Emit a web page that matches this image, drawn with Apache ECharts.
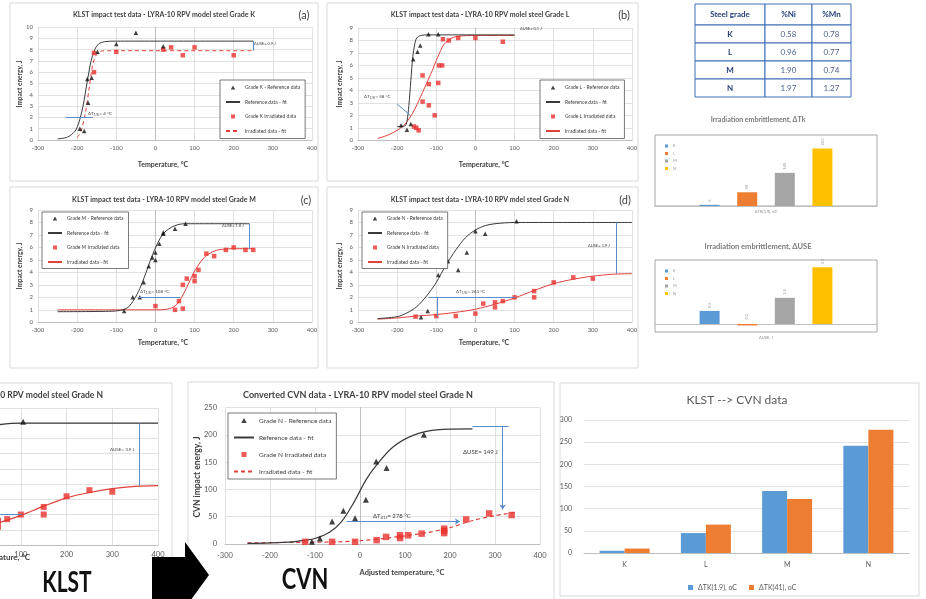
<!DOCTYPE html>
<html><head><meta charset="utf-8">
<script src="https://cdn.jsdelivr.net/npm/echarts@6/dist/echarts.min.js"></script>
<style>html,body{margin:0;padding:0;background:#fff}#c{width:926px;height:599px}</style>
</head><body><div id="c"></div>
<script>
// ---------- DATA ----------
// Grade K (panel a)
const kRef = [[-193,1.0],[-182,0.8],[-174,5.4],[-172,3.3],[-163,5.5],[-148,7.8],[-100,8.5],[-50,9.5],[20,8.3]];
const kRefFit = [[-250,0.1],[-225,0.25],[-205,0.8],[-195,1.6],[-185,3.0],[-175,5.0],[-165,6.9],[-155,8.0],[-145,8.5],[-130,8.7],[-100,8.75],[250,8.75]];
const kIrr = [[-157,7.7],[-157,6.0],[-100,7.8],[20,8.0],[40,8.2],[70,7.5],[100,8.2],[200,7.5]];
const kIrrFit = [[-200,0.2],[-190,0.8],[-180,2.2],[-170,4.4],[-160,6.7],[-150,7.6],[-140,7.85],[-120,7.9],[250,7.9]];
const kDT = [[-230,2],[-160,2]];
const kDUSE = [[250,8.75],[250,7.9]];
// Grade L (panel b)
const lRef = [[-190,1.2],[-175,0.85],[-165,1.3],[-159,6.5],[-148,7.1],[-141,7.6],[-120,8.5],[-95,8.5]];
const lRefFit = [[-200,1.1],[-180,1.15],[-175,1.5],[-170,2.8],[-165,4.8],[-160,6.7],[-155,7.7],[-150,8.2],[-140,8.4],[-120,8.45],[100,8.45]];
const lIrr = [[-157,1.1],[-151,1.0],[-145,0.8],[-135,5.2],[-135,3.1],[-119,4.5],[-119,2.8],[-104,2.0],[-95,4.6],[-93,6.0],[-85,6.0],[-83,8.1],[-68,8.0],[-44,8.2],[0,8.2],[70,7.9]];
const lIrrFit = [[-250,0.15],[-225,0.4],[-200,0.8],[-180,1.3],[-160,2.2],[-140,3.5],[-120,4.9],[-110,5.6],[-100,6.4],[-90,7.1],[-80,7.7],[-60,8.2],[-40,8.35],[0,8.4],[100,8.4]];
const lDT = [[-200,2.9],[-166,2.0]];
// Grade M (panel c)
const mRef = [[-80,0.9],[-58,2.0],[-40,2.0],[-30,3.2],[-17,4.5],[-8,5.2],[0,5.6],[0,5.0],[10,6.3],[20,7.1],[20,7.2],[50,7.5],[77,7.9]];
const mRefFit = [[-250,0.85],[-120,0.88],[-90,0.95],[-70,1.2],[-55,1.8],[-40,2.7],[-25,3.9],[-10,5.2],[5,6.3],[20,7.1],[40,7.6],[60,7.85],[80,7.9],[240,7.9]];
const mIrr = [[0,1.3],[50,1.0],[70,1.1],[60,1.7],[70,3.0],[80,3.5],[100,3.3],[100,3.7],[110,4.2],[130,5.5],[150,5.3],[180,5.8],[200,6.0],[230,5.8],[250,5.8]];
const mIrrFit = [[-250,1.0],[0,1.0],[30,1.05],[50,1.3],[65,1.9],[80,2.8],[95,3.8],[110,4.6],[125,5.2],[140,5.55],[160,5.8],[200,5.9],[250,5.9]];
const mDT = [[-42,2],[63,2]];
const mDUSE = [[240,7.9],[240,5.9]];
// Grade N (panel d and enlarged copy)
const nRef = [[-139,0.4],[-122,0.9],[-95,3.8],[-70,4.9],[-44,4.2],[-22,5.6],[0,7.3],[25,7.1],[105,8.1]];
const nRefFit = [[-250,0.3],[-200,0.45],[-175,0.75],[-150,1.25],[-125,2.1],[-100,3.2],[-75,4.6],[-50,5.8],[-25,6.8],[0,7.4],[25,7.75],[50,7.9],[100,8.0],[400,8.0]];
const nIrr = [[-153,0.45],[-100,0.5],[-50,0.5],[0,0.7],[20,1.5],[50,1.6],[50,1.2],[70,1.7],[100,2.0],[150,2.5],[150,2.0],[200,3.2],[250,3.6],[300,3.5]];
const nIrrFit = [[-250,0.25],[-200,0.35],[-150,0.5],[-100,0.62],[-50,0.8],[0,1.05],[50,1.45],[100,1.95],[150,2.55],[200,3.1],[250,3.45],[300,3.7],[350,3.85],[400,3.9]];
const nDT = [[-120,2],[102,2]];
const nDTv = [[-97,2],[-97,0.5]];
const nDUSE = [[360,8.0],[360,3.9]];
// Converted CVN, grade N
const cvnRef = [[-107,4],[-89,10],[-62,41],[-37,61],[-11,47],[13,81],[36,151],[59,139],[142,200]];
const cvnRefFit = [[-250,1],[-200,2],[-150,4],[-120,7],[-100,10],[-67,22],[-40,42],[-15,74],[13,117],[37,145],[74,178],[118,199],[170,209],[250,211]];
const cvnIrr = [[-122,4],[-62,4],[-11,4],[37,7],[58,13],[89,11],[89,16],[107,16],[137,19],[187,20],[187,24],[187,28],[236,45],[287,56],[337,53]];
const cvnIrrFit = [[-250,2],[-150,3],[-50,4],[0,6],[50,10],[100,15],[150,21],[200,30],[250,43],[300,52],[345,58]];
const cvnDT = [[-30,41],[222,41]];
const cvnDUSEh = [[250,215],[330,215]];
const cvnDUSEv = [[317,215],[317,63]];
// KLST -> CVN bar chart
const grades = ['K','L','M','N'];
const dTk19 = [5,45,140,242];
const dTk41 = [10,64,122,278];
// Mini charts
const miniTk = [5,58,140,243];
const miniUse = [0.9,-0.1,1.8,3.9];
const miniColors = ['#5b9bd5','#ed7d31','#a5a5a5','#ffc000'];
// Table
const tblHead = ['Steel grade','%Ni','%Mn'];
const tblNi = ['0.58','0.96','1.90','1.97'];
const tblMn = ['0.78','0.77','0.74','1.27'];

// ---------- BUILD ----------
const fam = 'Lato, "Liberation Sans", sans-serif';
const strip = n => n.split('|')[0];
const G = [];
function txt(x,y,text,size,o={}){
  const el = {type:'text', x, y, rotation:o.rot||0, scaleX:o.sx||1, z:100, silent:true,
    style:{text, font:(o.w||'normal')+' '+size+'px '+fam, fill:o.c||'#404040',
      align:o.a||'center', verticalAlign:o.va||'middle'}};
  if(o.rich) el.style.rich = o.rich;
  return el;
}
function frame(x,y,w,h,c){ G.push({type:'rect', z:0, silent:true, shape:{x,y,width:w,height:h}, style:{fill:'#fff', stroke:c||'#d9d9d9', lineWidth:1}}); }
function dtLabel(x,y,val,size,sub){
  return txt(x,y,'{n|ΔT}{s|'+(sub||'1.9J')+'}{n|= '+val+' °C}',size,{a:'left',
    rich:{n:{fontSize:size,fontFamily:'Lato',fill:'#404040'},s:{fontSize:size*0.7,fontFamily:'Lato',fill:'#404040',padding:[size*0.5,0,0,0]}}});
}

const grids=[], xA=[], yA=[], S=[], L=[];
function addKlstAxes(g, ymax, lab, lsize){
  g.outerBoundsMode = 'none';
  grids.push(g);
  const gi = grids.length-1;
  xA.push({gridIndex:gi, type:'value', min:-300, max:400, interval:100,
    axisLine:{lineStyle:{color:'#bfbfbf'}}, axisTick:{show:false},
    axisLabel:{fontSize:lsize, color:'#595959', margin:lab.xm, fontFamily:fam},
    splitLine:{lineStyle:{color:'#d9d9d9', width:0.8}}});
  yA.push({gridIndex:gi, type:'value', min:0, max:ymax, interval:lab.yi||1,
    axisLine:{show:true, lineStyle:{color:'#bfbfbf'}}, axisTick:{show:false},
    axisLabel:{fontSize:lsize, color:'#595959', margin:lab.ym, fontFamily:fam},
    splitLine:{lineStyle:{color:'#d9d9d9', width:0.8}}});
  return gi;
}
function panelSeries(gi, tag, grade, ref, refFit, irr, irrFit, dashed, sz){
  const names = ['Grade '+grade+' - Reference data|'+tag, 'Reference data - fit|'+tag,
                 'Grade '+grade+' Irradiated data|'+tag, 'Irradiated data - fit|'+tag];
  S.push({name:names[3], type:'line', xAxisIndex:gi, yAxisIndex:gi, data:irrFit, smooth:0.3, symbol:'none',
    lineStyle:{color:'#e0403a', width:sz.lw, type:dashed?[4,3]:'solid'}, itemStyle:{color:'#e0403a'}, z:2, silent:true});
  S.push({name:names[1], type:'line', xAxisIndex:gi, yAxisIndex:gi, data:refFit, smooth:0.3, symbol:'none',
    lineStyle:{color:'#3a3a3a', width:sz.lw}, itemStyle:{color:'#3a3a3a'}, z:3, silent:true});
  S.push({name:names[2], type:'scatter', xAxisIndex:gi, yAxisIndex:gi, data:irr, symbol:'rect', symbolSize:sz.sq,
    itemStyle:{color:'#e8322e'}, z:4, silent:true});
  S.push({name:names[0], type:'scatter', xAxisIndex:gi, yAxisIndex:gi, data:ref, symbol:'triangle', symbolSize:sz.tri,
    itemStyle:{color:'#111'}, z:5, silent:true});
  return names;
}
function annot(gi, coords, arrow){
  S.push({type:'lines', coordinateSystem:'cartesian2d', xAxisIndex:gi, yAxisIndex:gi, silent:true, z:6,
    data:[{coords}], lineStyle:{color:'#5a8ccc', width:1, opacity:1, curveness:0},
    symbol: arrow?['none','arrow']:['none','none'], symbolSize:arrow?5:0});
}
const TRI='path://M5,0L10,9L0,9Z', SQ='path://M0,0H10V10H0Z';
function legendFor(names, left, top, fs, ih, gap, pad, iw){
  L.push({show:true, left, top, orient:'vertical', symbolKeepAspect:true,
    data:[{name:names[0],icon:TRI},{name:names[1],itemStyle:{opacity:0}},{name:names[2],icon:SQ},{name:names[3],itemStyle:{opacity:0}}],
    formatter:strip, selectedMode:false, borderColor:'#404040', borderWidth:0.7, backgroundColor:'#fff',
    padding:pad, itemGap:gap, itemWidth:iw, itemHeight:ih, textStyle:{fontSize:fs, color:'#404040', fontFamily:fam}, z:20});
}
const small = {tri:4.5, sq:4.5, lw:1};

// frames
frame(10,3,308,178); frame(327,3,311,178); frame(10,187,308,181); frame(327,187,311,181);
frame(-5,383,177,230); frame(188,382,366,230); frame(560,383,359,213);

// Panel a
let gi = addKlstAxes({left:38, top:27, width:274, height:113}, 10, {xm:5, ym:5}, 6);
let nm = panelSeries(gi,'a','K',kRef,kRefFit,kIrr,kIrrFit,true,small);
annot(gi,kDT,false); annot(gi,kDUSE,false);
legendFor(nm,220,80,5,4,9.5,[5,5],14);
// Panel b
gi = addKlstAxes({left:358, top:28, width:274, height:112.3}, 9, {xm:5, ym:5}, 6);
nm = panelSeries(gi,'b','L',lRef,lRefFit,lIrr,lIrrFit,false,small);
annot(gi,lDT,false);
legendFor(nm,540,80,5,4,9.5,[5,5],14);
// Panel c
gi = addKlstAxes({left:38, top:210, width:274, height:112.3}, 9, {xm:5, ym:5}, 6);
nm = panelSeries(gi,'c','M',mRef,mRefFit,mIrr,mIrrFit,false,small);
annot(gi,mDT,false); annot(gi,mDUSE,false);
legendFor(nm,42,212,5,4,9.5,[4,5],14);
// Panel d
gi = addKlstAxes({left:358, top:210, width:274, height:112.3}, 9, {xm:5, ym:5}, 6);
nm = panelSeries(gi,'d','N',nRef,nRefFit,nIrr,nIrrFit,false,small);
annot(gi,nDT,false); annot(gi,nDTv,false); annot(gi,nDUSE,false);
legendFor(nm,362,212,5,4,9.5,[4,5],14);
// Enlarged Grade N (partially visible)
gi = addKlstAxes({left:-162, top:408, width:320, height:137}, 9, {xm:6, ym:6}, 7.5);
panelSeries(gi,'e','N',nRef,nRefFit,nIrr,nIrrFit,false,{tri:6,sq:6,lw:1.2});
annot(gi,nDT,false); annot(gi,nDUSE,false);
// CVN
gi = addKlstAxes({left:225, top:407.5, width:315, height:136.5}, 250, {xm:8, ym:8, yi:50}, 7.5);
nm = panelSeries(gi,'f','N',cvnRef,cvnRefFit,cvnIrr,cvnIrrFit,true,{tri:6,sq:6.5,lw:1.2});
annot(gi,cvnDT,true); annot(gi,cvnDUSEh,false); annot(gi,cvnDUSEv,true);
legendFor(nm,228,413,6.5,5,10,[4,5],20);

// Bar chart KLST -> CVN
grids.push({left:584, top:420, width:325, height:133, outerBoundsMode:'none'}); gi = grids.length-1;
xA.push({gridIndex:gi, type:'category', data:grades, axisLine:{lineStyle:{color:'#bfbfbf'}}, axisTick:{show:false},
  axisLabel:{fontSize:7, color:'#595959', margin:8, fontFamily:fam}});
yA.push({gridIndex:gi, type:'value', min:0, max:300, interval:50, axisLine:{show:false}, axisTick:{show:false},
  axisLabel:{fontSize:7, color:'#595959', margin:12, fontFamily:fam}, splitLine:{lineStyle:{color:'#d9d9d9', width:0.8}}});
S.push({name:'ΔTK(1.9), oC', type:'bar', xAxisIndex:gi, yAxisIndex:gi, data:dTk19, barWidth:25, barGap:'0%', itemStyle:{color:'#5b9bd5'}, silent:true});
S.push({name:'ΔTK(41), oC', type:'bar', xAxisIndex:gi, yAxisIndex:gi, data:dTk41, barWidth:25, barGap:'0%', itemStyle:{color:'#ed7d31'}, silent:true});
L.push({show:true, left:683, top:579, data:['ΔTK(1.9), oC','ΔTK(41), oC'], icon:'rect', itemWidth:5, itemHeight:5, itemGap:12,
  selectedMode:false, textStyle:{fontSize:7, color:'#595959', fontFamily:fam}});

// Mini charts
function mini(top, vals, tag, ymin, ymax){
  grids.push({left:655, top, width:222, height: tag==='t'?71:72, show:true, borderColor:'#a6a6a6', borderWidth:1, backgroundColor:'#fff', outerBoundsMode:'none'});
  const g = grids.length-1;
  xA.push({gridIndex:g, type:'category', data:['x'], axisLine:{show:true, onZero:true, lineStyle:{color:'#bfbfbf'}}, axisTick:{show:false}, axisLabel:{show:false}});
  yA.push({gridIndex:g, type:'value', min:ymin, max:ymax, show:false, splitLine:{show:false}});
  const names=[];
  grades.forEach((gr,i)=>{
    const n = gr+'|'+tag; names.push(n);
    S.push({name:n, type:'bar', xAxisIndex:g, yAxisIndex:g, data:[vals[i]], barWidth:20, barGap:'88%',
      itemStyle:{color:miniColors[i]}, silent:true,
      label:{show:true, position:'top', distance:3, fontSize:4, color:'#999', rotate:90, align:'left', verticalAlign:'middle'}});
  });
  L.push({show:true, left:660, top:top+4, orient:'vertical', data:names, formatter:strip, icon:'rect', itemWidth:3, itemHeight:3, itemGap:3.5,
    selectedMode:false, textStyle:{fontSize:4, color:'#999', fontFamily:fam}});
}
mini(135, miniTk, 't', 0, 300);
mini(260, miniUse, 'u', -0.55, 4.4);

// ---------- TEXT ----------
const T = (...a)=>G.push(txt(...a));
// panel titles
T(164,15,'KLST impact test data - LYRA-10 RPV model steel Grade K',7,{w:'bold'});
T(304,15,'(a)',11);
T(480,15,'KLST impact test data - LYRA-10 RPV molel steel Grade L',7,{w:'bold'});
T(624,15,'(b)',11);
T(164,200,'KLST impact test data - LYRA-10 RPV model steel Grade M',7,{w:'bold'});
T(306,200,'(c)',11);
T(480,200,'KLST impact test data - LYRA-10 RPV mdel steel Grade N',7,{w:'bold'});
T(625,200,'(d)',11);
// axis names
[[20,84],[340,84],[20,266],[340,266]].forEach(p=>T(p[0],p[1],'Impact energy, J',6.5,{w:'bold',rot:Math.PI/2}));
[[163,165],[484,165],[163,343],[484,343]].forEach(p=>T(p[0],p[1],'Temperature, °C',7,{w:'bold'}));
// annotations a-d
T(254,44,'ΔUSE= 0.9 J',4,{a:'left'});
G.push(dtLabel(88,114,'4',4.5));
T(520,29,'ΔUSE= 0.1 J',4,{a:'left'});
G.push(dtLabel(364,97,'58',4.5));
T(222,226,'ΔUSE= 1.8 J',4,{a:'left'});
G.push(dtLabel(140,292,'108',4.5));
T(588,246,'ΔUSE= 3.9 J',4,{a:'left'});
G.push(dtLabel(456,292,'243',4.5));
// enlarged N
T(103,395,'KLST impact test data - LYRA-10 RPV model steel Grade N',8.5,{w:'bold',a:'right'});
T(30,557,'Temperature, °C',8,{w:'bold',a:'right'});
T(110,450,'ΔUSE= 3.9 J',4.5,{a:'left'});
// CVN
T(358,395,'Converted CVN data - LYRA-10 RPV model steel Grade N',9,{w:'bold'});
T(197,477,'CVN impact energy, J',8.5,{w:'bold',rot:Math.PI/2});
T(402,573,'Adjusted temperature, °C',7.5,{w:'bold'});
T(463,452,'ΔUSE= 149 J',6,{a:'left'});
G.push(dtLabel(373,516,'278',6,'41J'));
// big labels + arrow
G.push({type:'polygon', z:50, silent:true, shape:{points:[[152,557],[185,557],[185,542],[209,575],[185,608],[185,620],[152,620]]}, style:{fill:'#000'}});
T(67,583,'KLST',28,{w:'bold',c:'#111',sx:0.75});
T(305,580,'CVN',28,{w:'bold',c:'#111',sx:0.78});
// bar chart title
T(737,400,'KLST --> CVN data',12,{c:'#595959'});
// mini titles + axis labels
T(758,120,'Irradiation embrittlement, ΔTk',7,{w:'bold',c:'#7a7a7a'});
T(766,212,'ΔTK(1.9), oC',4,{c:'#888'});
T(758,247,'Irradiation embrittlement, ΔUSE',7.5,{w:'bold',c:'#7a7a7a'});
T(766,338,'ΔUSE, J',4,{c:'#888'});
// table
const cx=[695,765,812,851], ry=[4,25,43,61,79,97];
for(let r=0;r<5;r++) for(let c=0;c<3;c++)
  G.push({type:'rect', z:1, silent:true, shape:{x:cx[c],y:ry[r],width:cx[c+1]-cx[c],height:ry[r+1]-ry[r]}, style:{fill:'#fff',stroke:'#3f6fb6',lineWidth:1}});
tblHead.forEach((h,c)=>T((cx[c]+cx[c+1])/2,(ry[0]+ry[1])/2,h,8,{w:'bold',c:'#23407a'}));
grades.forEach((g,r)=>{
  const y=(ry[r+1]+ry[r+2])/2;
  T((cx[0]+cx[1])/2,y,g,8,{w:'bold',c:'#23407a'});
  T((cx[1]+cx[2])/2,y,tblNi[r],8,{c:'#4a5f8a'});
  T((cx[2]+cx[3])/2,y,tblMn[r],8,{c:'#4a5f8a'});
});

const chart = echarts.init(document.getElementById('c'), null, {renderer:'canvas'});
chart.setOption({animation:false, textStyle:{fontFamily:fam}, grid:grids, xAxis:xA, yAxis:yA, legend:L, series:S, graphic:{elements:G}});
</script></body></html>
